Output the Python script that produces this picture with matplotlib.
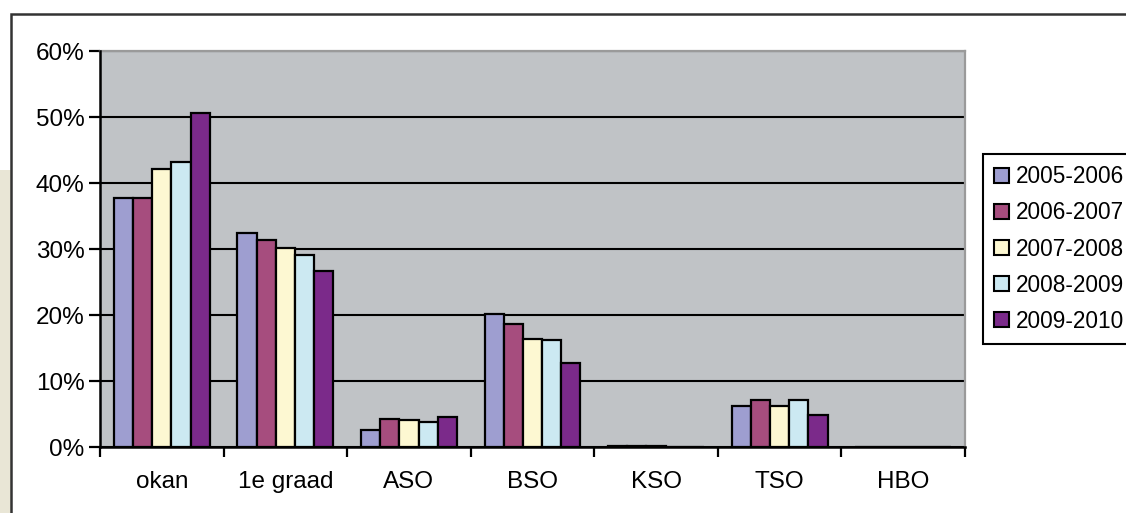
import numpy as np
import matplotlib.pyplot as plt
from matplotlib.patches import Patch, Rectangle
from matplotlib.ticker import FuncFormatter

categories = ["okan", "1e graad", "ASO", "BSO", "KSO", "TSO", "HBO"]
years = ["2005-2006", "2006-2007", "2007-2008", "2008-2009", "2009-2010"]

# percentages per school year, one value per category
v_2005 = [37.8, 32.4, 2.6, 20.1, 0.2, 6.2, 0.0]
v_2006 = [37.8, 31.3, 4.3, 18.7, 0.2, 7.1, 0.0]
v_2007 = [42.1, 30.2, 4.1, 16.4, 0.2, 6.2, 0.0]
v_2008 = [43.2, 29.1, 3.8, 16.2, 0.0, 7.1, 0.0]
v_2009 = [50.6, 26.7, 4.5, 12.8, 0.0, 4.8, 0.0]
series = [v_2005, v_2006, v_2007, v_2008, v_2009]

colors = ["#9e9ed0", "#a64d7e", "#fdf8d2", "#cce9f2", "#7b2a8a"]

plt.rcParams['font.family'] = ['Liberation Sans', 'DejaVu Sans']
FS = 17.5

W, H = 1126, 513
fig = plt.figure(figsize=(W / 100, H / 100), dpi=100)
fig.patch.set_facecolor("white")

# faded background strip left of the chart frame + the frame itself
fig.patches.append(Rectangle((0, 0), 11 / W, 1 - 170 / H, transform=fig.transFigure,
                             facecolor="#e9e6d6", edgecolor="none", zorder=0))
fig.patches.append(Rectangle((11 / W, -0.1), 1.2, 1.1 - 14 / H, transform=fig.transFigure,
                             facecolor="none", edgecolor="#333333", lw=1.8, zorder=1))

ax = fig.add_axes([100 / W, 1 - 447 / H, (965 - 100) / W, (447 - 51) / H])
ax.set_facecolor("#c0c3c6")

x = np.arange(len(categories))
bw = 0.155
for i, (vals, col, yr) in enumerate(zip(series, colors, years)):
    ax.bar(x + (i - 2) * bw, vals, width=bw, color=col, edgecolor="black",
           linewidth=1.6, zorder=3, label=yr)

ax.set_xlim(-0.5, len(categories) - 0.5)
ax.set_ylim(0, 60)
ax.set_yticks(np.arange(0, 61, 10))
ax.yaxis.set_major_formatter(FuncFormatter(lambda v, p: f"{v:.0f}%"))
ax.grid(axis="y", color="black", linewidth=1.5, zorder=1)
ax.set_axisbelow(True)

ax.set_xticks(x)
ax.set_xticklabels(categories)
ax.set_xticks(np.arange(-0.5, len(categories)), minor=True)
ax.tick_params(axis="x", which="major", length=0, pad=17, labelsize=FS)
ax.tick_params(axis="x", which="minor", length=7, width=1.6, direction="out")
ax.tick_params(axis="y", length=8, width=1.6, pad=3, labelsize=FS)

for s in ["left", "bottom"]:
    ax.spines[s].set_color("black")
    ax.spines[s].set_linewidth(1.8)
    ax.spines[s].set_zorder(4)
for s in ["top", "right"]:
    ax.spines[s].set_color("#9a9a9a")
    ax.spines[s].set_linewidth(1.6)

handles = [Patch(facecolor=c, edgecolor="black", linewidth=1.5) for c in colors]
leg = fig.legend(handles, years, loc="upper left",
                 bbox_to_anchor=(983 / W, 1 - 154 / H), borderaxespad=0,
                 fontsize=16.3, handlelength=0.65, handleheight=0.65,
                 handletextpad=0.3, labelspacing=0.58, borderpad=0.5,
                 fancybox=False, framealpha=1, edgecolor="black")
leg.get_frame().set_linewidth(1.5)

fig.savefig("out.png", dpi=100)
